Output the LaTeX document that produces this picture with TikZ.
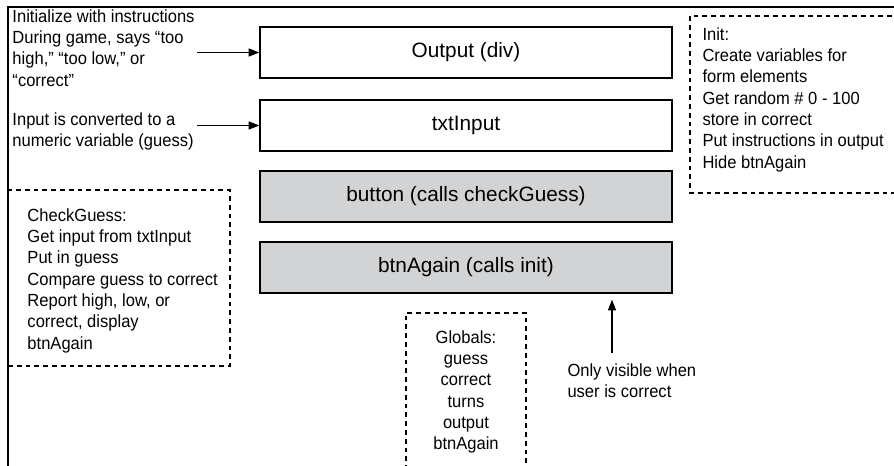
\documentclass[tikz,border=0pt]{standalone}
\usepackage{fontspec}
\setmainfont{Liberation Sans}
\newfontfamily\notefamily{Liberation Sans}[FakeStretch=0.94]
\usetikzlibrary{arrows.meta}
\definecolor{btngray}{RGB}{210,211,213}
\tikzset{every picture/.style={line width=0.75pt}}
\tikzset{
  notefont/.style={font=\notefamily\fontsize{13.2pt}{16pt}\selectfont},
  boxfont/.style={font=\fontsize{15.6pt}{18pt}\selectfont},
  ctrlbox/.style={draw, line width=1pt, minimum width=309pt, minimum height=38.25pt, inner sep=0pt, boxfont},
  graybox/.style={ctrlbox, fill=btngray},
  notebox/.style={line width=0.9pt, dash pattern=on 3.6pt off 3pt},
  pointer/.style={line width=0.9pt, -{Triangle[length=8pt,width=6pt]}},
}

\begin{document}
\begin{tikzpicture}[x=0.75pt,y=0.75pt,yscale=-1,xscale=1]
\clip (0,0) rectangle (894,466); %page of 894 x 466

%Straight Lines: frame
\draw [line width=1.5pt] (8,470) -- (8,7) -- (900,7) ;

%Shape: Rectangle
\draw (466,52.5) node (outdiv) [ctrlbox] {Output (div)};
%Shape: Rectangle
\draw (466,125.5) node (txtinput) [ctrlbox] {txtInput};
%Shape: Rectangle
\draw (466,196.5) node (button) [graybox] {button (calls checkGuess)};
%Shape: Rectangle
\draw (466,267.5) node (btnagain) [graybox] {btnAgain (calls init)};

%Shape: Dashed Rectangle
\draw [notebox] (8,190) rectangle (230,366) ;
%Shape: Dashed Rectangle
\draw [notebox] (690,16) rectangle (900,193) ;
%Shape: Dashed Rectangle
\draw [notebox] (406,470) -- (406,313) -- (526,313) -- (526,470) ;

% Text Node
\draw (12,9) node (outnote) [anchor=north west][inner sep=0pt] [notefont, align=left] {Initialize with instructions\\During game, says “too\\high,” “too low,” or\\“correct”};
% Text Node
\draw (12,112) node (inputnote) [anchor=north west][inner sep=0pt] [notefont, align=left] {Input is converted to a\\numeric variable (guess)};
% Text Node
\draw (27,208) node (checknote) [anchor=north west][inner sep=0pt] [notefont, align=left] {CheckGuess:\\Get input from txtInput\\Put in guess\\Compare guess to correct\\Report high, low, or\\correct, display\\btnAgain};
% Text Node
\draw (702,27) node (initnote) [anchor=north west][inner sep=0pt] [notefont, align=left] {Init:\\Create variables for\\form elements\\Get random \# 0 - 100\\store in correct\\Put instructions in output\\Hide btnAgain};
% Text Node
\draw (466,330) node (globnote) [anchor=north][inner sep=0pt] [notefont, align=center] {Globals:\\guess\\correct\\turns\\output\\btnAgain};
% Text Node
\draw (567,363) node (visnote) [anchor=north west][inner sep=0pt] [notefont, align=left] {Only visible when\\user is correct};

%Straight Lines: arrows
\coordinate (outtail) at (197,52.5);
\coordinate (inputtail) at (197,125.5);
\coordinate (vistail) at (612,353);
\draw [pointer] (outtail) -- (outdiv.west) ;
\draw [pointer] (inputtail) -- (txtinput.west) ;
\draw [pointer, shorten >=4.5pt] (vistail) -- (vistail |- btnagain.south) ;

\end{tikzpicture}
\end{document}
